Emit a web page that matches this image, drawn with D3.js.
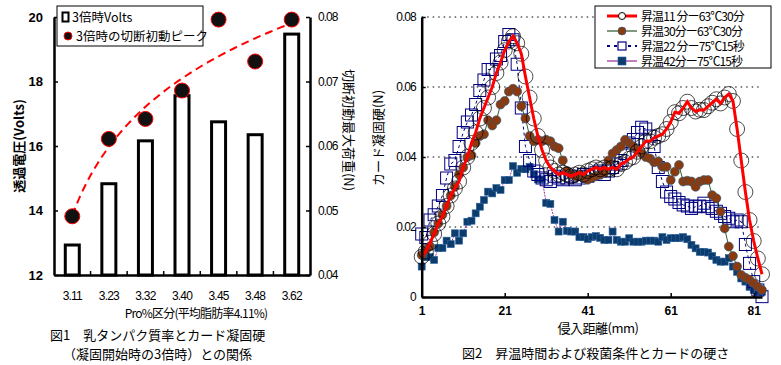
<html lang="ja">
<head>
<meta charset="UTF-8" />
<title>chart</title>
<style>
  body { margin: 0; background: #fff; }
  svg { display: block; }
  text { font-family: "Liberation Sans", Arial, "Noto Sans CJK JP", sans-serif; fill: #000; }
  .jp { font-family: "Noto Sans CJK JP", sans-serif; }
  .axis path, .axis line { stroke: #000; }
</style>
</head>
<body>
<script src="https://cdn.jsdelivr.net/npm/d3@7"></script>
<script>
// ---- 図1 data ----
const proCats = ["3.11", "3.23", "3.32", "3.40", "3.45", "3.48", "3.62"];
const volts = [12.93, 14.83, 16.16, 17.56, 16.75, 16.35, 19.47];
const peakLoad = [0.0491, 0.0611, 0.0642, 0.0686, 0.0796, 0.0731, 0.0796];
const voltTicks = [12, 14, 16, 18, 20];
const loadTicks = [0.04, 0.05, 0.06, 0.07, 0.08];

// ---- 図2 data (x = 1..83 mm) ----
const seriesNames = ["昇温11 分ー63℃30分", "昇温30分ー63℃30分", "昇温22 分ー75℃15秒", "昇温42分ー75℃15秒"];
const s11_63 = [0.0115,0.013,0.0155,0.018,0.021,0.023,0.026,0.029,0.031,0.033,
  0.037,0.040,0.044,0.047,0.051,0.054,0.057,0.060,0.064,0.067,
  0.0705,0.073,0.0745,0.0725,0.0695,0.063,0.057,0.051,0.046,0.042,
  0.039,0.037,0.036,0.035,0.0355,0.035,0.0345,0.035,0.0355,0.035,
  0.036,0.0365,0.037,0.0365,0.037,0.0365,0.037,0.0365,0.038,0.0385,
  0.0395,0.040,0.0415,0.043,0.0445,0.0445,0.0455,0.046,0.0465,0.048,
  0.050,0.0528,0.0525,0.054,0.0558,0.054,0.053,0.0535,0.0534,0.0545,
  0.0555,0.0565,0.0553,0.057,0.058,0.056,0.048,0.039,0.030,0.022,
  0.016,0.011,0.0065];
const s30_63 = [0.012,0.0135,0.0145,0.0185,0.021,0.0235,0.026,0.029,0.0315,0.035,
  0.037,0.040,0.0405,0.044,0.046,0.0465,0.0505,0.049,0.0505,0.055,
  0.056,0.0587,0.0595,0.0587,0.0545,0.051,0.046,0.0445,0.0449,0.0445,
  0.0449,0.0445,0.043,0.0425,0.039,0.036,0.035,0.0345,0.035,0.034,
  0.0335,0.034,0.0345,0.035,0.0355,0.039,0.041,0.042,0.043,0.0449,
  0.044,0.043,0.042,0.041,0.040,0.0396,0.0385,0.0387,0.0372,0.0372,
  0.0334,0.0358,0.0377,0.033,0.0332,0.033,0.0315,0.033,0.0334,0.0334,
  0.0291,0.0282,0.0244,0.0196,0.0144,0.0117,0.0087,0.0063,0.0055,0.0049,
  0.0039,0.0029,0.002];
const s22_75 = [0.018,0.017,0.022,0.0235,0.026,0.029,0.034,0.038,0.039,0.043,
  0.047,0.050,0.052,0.055,0.059,0.062,0.065,0.065,0.068,0.069,
  0.073,0.075,0.0735,0.0665,0.054,0.043,0.039,0.036,0.035,0.034,
  0.0335,0.033,0.0345,0.034,0.0335,0.034,0.0345,0.0335,0.034,0.035,
  0.0345,0.035,0.0355,0.036,0.035,0.036,0.037,0.038,0.039,0.041,
  0.044,0.045,0.047,0.0485,0.048,0.046,0.043,0.037,0.033,0.030,
  0.0287,0.028,0.027,0.0263,0.026,0.0253,0.0258,0.026,0.0268,0.0258,
  0.0253,0.0245,0.0239,0.023,0.0225,0.0215,0.022,0.0215,0.015,0.0096,
  0.0044,0.002,0.0001];
const s42_75 = [0.0087,0.0114,0.0114,0.0106,0.014,0.014,0.0161,0.0151,0.0182,0.0161,
  0.0182,0.0215,0.0218,0.0239,0.0258,0.0277,0.0301,0.0296,0.0311,0.0306,
  0.0334,0.0334,0.0374,0.0355,0.0366,0.0365,0.0372,0.0351,0.0336,0.0336,
  0.0269,0.0266,0.022,0.0187,0.0215,0.0189,0.0187,0.0187,0.0171,0.0171,
  0.0166,0.0171,0.0174,0.0169,0.0163,0.0163,0.0187,0.0163,0.0158,0.0158,
  0.0168,0.0158,0.0158,0.0158,0.0161,0.0161,0.0161,0.0158,0.0171,0.0163,
  0.0168,0.0168,0.0168,0.0171,0.0165,0.0149,0.0139,0.0129,0.0129,0.0127,
  0.0117,0.0106,0.0101,0.0101,0.0111,0.0087,0.0072,0.0053,0.0044,0.0029,
  0.002,0.0015,0.0015];
const distTicks = [1, 21, 41, 61, 81];
const hardTicks = [0, 0.02, 0.04, 0.06, 0.08];

const svg = d3.select("body").append("svg").attr("width", 781).attr("height", 365);

// ================= 図1 =================
const g1 = svg.append("g");
const x1 = d3.scaleBand().domain(proCats).range([54, 310]);
const yV = d3.scaleLinear().domain([12, 20]).range([275, 17]);
const yN = d3.scaleLinear().domain([0.04, 0.08]).range([275, 17]);

// bars
const bw = 14;
g1.selectAll(".bar").data(proCats).enter().append("rect")
  .attr("x", (d) => x1(d) + x1.bandwidth() / 2 - bw / 2)
  .attr("y", (d, i) => yV(volts[i]))
  .attr("width", bw)
  .attr("height", (d, i) => yV(12) - yV(volts[i]))
  .style("fill", "#fff").style("stroke", "#000").style("stroke-width", 3);

// logarithmic trend of peak load (least squares on ln(index))
const lx = peakLoad.map((d, i) => Math.log(i + 1));
const mx = d3.mean(lx), my = d3.mean(peakLoad);
const b = d3.sum(lx, (d, i) => (d - mx) * (peakLoad[i] - my)) / d3.sum(lx, (d) => (d - mx) * (d - mx));
const a = my - b * mx;
const trendPts = d3.range(0, 6.01, 0.1).map((t) => [
  x1(proCats[0]) + x1.bandwidth() / 2 + t * x1.step(),
  yN(a + b * Math.log(t + 1))
]);
g1.append("path").attr("d", d3.line()(trendPts))
  .style("fill", "none").style("stroke", "#ff0000").style("stroke-width", 2)
  .style("stroke-dasharray", "8,5");

g1.selectAll(".pk").data(peakLoad).enter().append("circle")
  .attr("cx", (d, i) => x1(proCats[i]) + x1.bandwidth() / 2)
  .attr("cy", (d) => yN(d))
  .attr("r", 7.5)
  .style("fill", "#111").style("stroke", "#ff0000").style("stroke-width", 1);

// axes
const axL = g1.append("g").attr("class", "axis").attr("transform", "translate(54,0)")
  .call(d3.axisLeft(yV).tickValues(voltTicks).tickSize(-4).tickSizeOuter(0).tickPadding(11));
const axR = g1.append("g").attr("class", "axis").attr("transform", "translate(310,0)")
  .call(d3.axisRight(yN).tickValues(loadTicks).tickSize(-4).tickSizeOuter(0).tickPadding(8)
    .tickFormat(d3.format(".2f")));
const axB = g1.append("g").attr("class", "axis").attr("transform", "translate(0,275)")
  .call(d3.axisBottom(x1).tickSize(0).tickSizeOuter(0).tickPadding(16));
[axL, axR, axB].forEach((ax) => {
  ax.select(".domain").style("stroke-width", 2.5);
  ax.selectAll("line").style("stroke-width", 1.5);
});
axL.selectAll("text").style("font-size", "13px").style("font-weight", "bold");
axR.selectAll("text").style("font-size", "12px").style("letter-spacing", "-1px");
axB.selectAll("text").style("font-size", "12px").style("letter-spacing", "-0.8px");
// small ticks between categories
g1.selectAll(".sep").data(proCats.slice(1)).enter().append("line")
  .attr("x1", (d) => x1(d)).attr("x2", (d) => x1(d))
  .attr("y1", 275).attr("y2", 271)
  .style("stroke", "#000").style("stroke-width", 1.5);

// axis titles
g1.append("text").attr("class", "jp").attr("transform", "translate(24,146) rotate(-90)")
  .attr("text-anchor", "middle").style("font-size", "13px").style("font-weight", "bold").text("透過電圧(Volts)");
g1.append("text").attr("class", "jp").attr("transform", "translate(344,130) rotate(90)")
  .attr("text-anchor", "middle").style("font-size", "13px").text("切断初動最大荷重(N)");
g1.append("text").attr("class", "jp").attr("x", 196).attr("y", 318)
  .attr("text-anchor", "middle").style("font-size", "12px").style("letter-spacing", "-0.8px")
  .text("Pro%区分(平均脂肪率4.11%)");

// legend
const lg1 = g1.append("g");
lg1.append("rect").attr("x", 57).attr("y", 6).attr("width", 146).attr("height", 40)
  .style("fill", "#fff").style("stroke", "#000").style("stroke-width", 1);
lg1.append("rect").attr("x", 62.5).attr("y", 12.5).attr("width", 6).attr("height", 9)
  .style("fill", "#fff").style("stroke", "#000").style("stroke-width", 2);
lg1.append("text").attr("class", "jp").attr("x", 72).attr("y", 22).style("font-size", "12.5px").text("3倍時Volts");
lg1.append("circle").attr("cx", 68).attr("cy", 36).attr("r", 4)
  .style("fill", "#111").style("stroke", "#ff0000").style("stroke-width", 1);
lg1.append("text").attr("class", "jp").attr("x", 76).attr("y", 41).style("font-size", "12.5px").text("3倍時の切断初動ピーク");

// caption
g1.append("text").attr("class", "jp").attr("x", 50).attr("y", 340).style("font-size", "13px").text("図1　乳タンパク質率とカード凝固硬");
g1.append("text").attr("class", "jp").attr("x", 63).attr("y", 359).style("font-size", "13px").text("（凝固開始時の3倍時）との関係");

// ================= 図2 =================
const g2 = svg.append("g");
const x2 = d3.scaleLinear().domain([1, 83]).range([421.7, 762]);
const y2 = d3.scaleLinear().domain([0, 0.08]).range([297, 17]);
const dist = d3.range(1, 84);

// grid
g2.selectAll(".grid").data(hardTicks.slice(1)).enter().append("line")
  .attr("x1", x2(1)).attr("x2", x2(83)).attr("y1", (d) => y2(d)).attr("y2", (d) => y2(d))
  .style("stroke", "#000").style("stroke-width", 1).style("stroke-dasharray", "1.5,4");

const line2 = (vals) => d3.line().x((d, i) => x2(dist[i])).y((d) => y2(d))(vals);

// 昇温42分-75℃15秒
g2.append("path").attr("d", line2(s42_75)).style("fill", "none")
  .style("stroke", "#800080").style("stroke-width", 0.8).style("stroke-dasharray", "2,1");
g2.selectAll(".s4").data(s42_75).enter().append("rect")
  .attr("x", (d, i) => x2(dist[i]) - 3.5).attr("y", (d) => y2(d) - 3.5)
  .attr("width", 7).attr("height", 7)
  .style("fill", "#0b3c6b").style("stroke", "#2b5fa0").style("stroke-width", 0.6);

// 昇温22分-75℃15秒
g2.append("path").attr("d", line2(s22_75)).style("fill", "none")
  .style("stroke", "#000080").style("stroke-width", 1).style("stroke-dasharray", "3,3");
g2.selectAll(".s3").data(s22_75).enter().append("rect")
  .attr("x", (d, i) => x2(dist[i]) - 6).attr("y", (d) => y2(d) - 6)
  .attr("width", 12).attr("height", 12)
  .style("fill", "none").style("stroke", "#000080").style("stroke-width", 1);

// 昇温30分-63℃30分
g2.append("path").attr("d", line2(s30_63)).style("fill", "none")
  .style("stroke", "#003300").style("stroke-width", 0.8);
g2.selectAll(".s2").data(s30_63).enter().append("circle")
  .attr("cx", (d, i) => x2(dist[i])).attr("cy", (d) => y2(d)).attr("r", 4.5)
  .style("fill", "#8b3a10").style("stroke", "#2a5a7a").style("stroke-width", 0.6);

// 昇温11分-63℃30分
g2.selectAll(".s1").data(s11_63).enter().append("circle")
  .attr("cx", (d, i) => x2(dist[i])).attr("cy", (d) => y2(d)).attr("r", 7.5)
  .style("fill", "none").style("stroke", "#000").style("stroke-width", 0.7);
g2.append("path").attr("d", line2(s11_63)).style("fill", "none")
  .style("stroke", "#ff0000").style("stroke-width", 3);

// axes
const ax2L = g2.append("g").attr("class", "axis").attr("transform", "translate(421.7,0)")
  .call(d3.axisLeft(y2).tickValues(hardTicks).tickSize(-4).tickSizeOuter(0).tickPadding(6)
    .tickFormat((d) => (d === 0 ? "0" : d3.format(".2f")(d))));
const ax2B = g2.append("g").attr("class", "axis").attr("transform", "translate(0,297)")
  .call(d3.axisBottom(x2).tickValues(distTicks).tickSize(-4).tickSizeOuter(0).tickPadding(9));
[ax2L, ax2B].forEach((ax) => {
  ax.select(".domain").style("stroke-width", 2.5);
  ax.selectAll("line").style("stroke-width", 1.5);
});
ax2L.selectAll("text").style("font-size", "12px").style("letter-spacing", "-1px");
ax2B.selectAll("text").style("font-size", "12px").style("font-weight", "bold");

g2.append("text").attr("class", "jp").attr("transform", "translate(383,138) rotate(-90)")
  .attr("text-anchor", "middle").style("font-size", "13px").text("カード凝固硬(N)");
g2.append("text").attr("class", "jp").attr("x", 598).attr("y", 333)
  .attr("text-anchor", "middle").style("font-size", "13px").style("letter-spacing", "-0.5px").text("侵入距離(mm)");

// legend
const lg2 = g2.append("g");
lg2.append("rect").attr("x", 595).attr("y", 6).attr("width", 176).attr("height", 62)
  .style("fill", "#fff").style("stroke", "#000").style("stroke-width", 1);
const legY = [16, 31, 46, 61];
const legLine = [
  { c: "#ff0000", w: 3, dash: null },
  { c: "#003300", w: 1, dash: null },
  { c: "#000080", w: 2, dash: "3,4" },
  { c: "#800080", w: 1, dash: null }
];
legY.forEach((y, i) => {
  lg2.append("line").attr("x1", 607).attr("x2", 637).attr("y1", y).attr("y2", y)
    .style("stroke", legLine[i].c).style("stroke-width", legLine[i].w)
    .style("stroke-dasharray", legLine[i].dash);
  lg2.append("text").attr("class", "jp").attr("x", 641).attr("y", y + 4.5)
    .style("font-size", "12px").style("letter-spacing", "-0.9px").text(seriesNames[i]);
});
lg2.append("circle").attr("cx", 622).attr("cy", legY[0]).attr("r", 3.5)
  .style("fill", "#fff").style("stroke", "#000").style("stroke-width", 1);
lg2.append("circle").attr("cx", 622).attr("cy", legY[1]).attr("r", 4)
  .style("fill", "#8b3a10").style("stroke", "#2a5a7a").style("stroke-width", 0.6);
lg2.append("rect").attr("x", 618).attr("y", legY[2] - 4).attr("width", 8).attr("height", 8)
  .style("fill", "#fff").style("stroke", "#000080").style("stroke-width", 1.2);
lg2.append("rect").attr("x", 618).attr("y", legY[3] - 4).attr("width", 8).attr("height", 8)
  .style("fill", "#0b3c6b").style("stroke", "#2b5fa0").style("stroke-width", 0.6);

// caption
g2.append("text").attr("class", "jp").attr("x", 462).attr("y", 358).style("font-size", "13px")
  .text("図2　昇温時間および殺菌条件とカードの硬さ");
</script>
</body>
</html>
